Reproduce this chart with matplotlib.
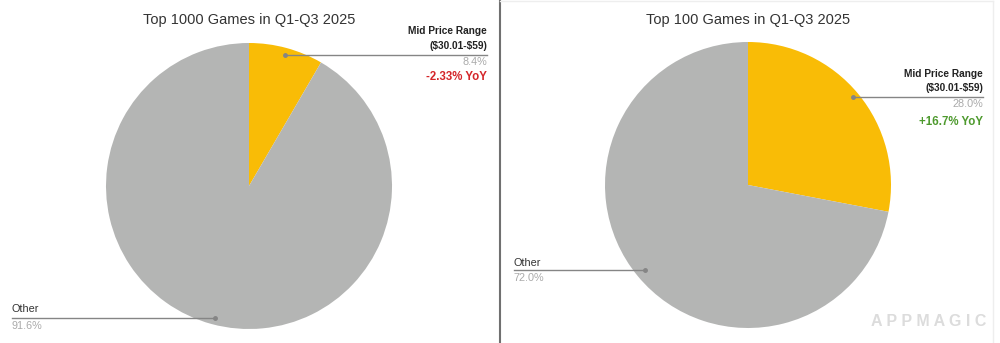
import matplotlib
matplotlib.use("Agg")
import matplotlib.pyplot as plt

plt.rcParams['font.family'] = ['Liberation Sans', 'DejaVu Sans']
plt.rcParams['text.parse_math'] = False

titles = ["Top 1000 Games in Q1-Q3 2025", "Top 100 Games in Q1-Q3 2025"]
categories = ["Mid Price Range", "($30.01-$59)", "Other"]
shares_top1000 = [8.4, 91.6]
shares_top100 = [28.0, 72.0]
yoy_labels = ["-2.33% YoY", "+16.7% YoY"]

colors = ["#F9BC06", "#B4B5B4"]
yoy_colors = ["#D4262A", "#4E9A2E"]

W, H = 1000, 343
fig = plt.figure(figsize=(W / 100, H / 100), dpi=100)
fig.patch.set_facecolor("white")

def fx(x):
    return x / W

def fy(y):
    return 1 - y / H

pies = [
    dict(cx=249, cy=186, r=143, data=shares_top1000,
         mid_anchor=(285, 55), mid_end=487, mid_y=[31, 46, 55, 62, 77],
         oth_anchor=(215, 318), oth_start=12, oth_y=[309, 318, 326]),
    dict(cx=748, cy=185, r=143, data=shares_top100,
         mid_anchor=(853, 97), mid_end=983, mid_y=[74, 88, 97, 104, 122],
         oth_anchor=(645, 270), oth_start=514, oth_y=[263, 270, 278]),
]

for i, p in enumerate(pies):
    ax = fig.add_axes([fx(p['cx'] - p['r']), fy(p['cy'] + p['r']),
                       2 * p['r'] / W, 2 * p['r'] / H])
    ax.pie(p['data'], colors=colors, startangle=90, counterclock=False,
           wedgeprops=dict(linewidth=0))
    ax.set_xlim(-1, 1)
    ax.set_ylim(-1, 1)
    ax.set_aspect('auto')
    ax.axis('off')

    fig.text(fx(p['cx']), fy(20), titles[i], ha='center', va='center',
             fontsize=10.5, color='#333333')

    y1, y2, yl, y3, y4 = p['mid_y']
    fig.text(fx(p['mid_end']), fy(y1), categories[0], ha='right', va='center',
             fontsize=7.3, fontweight='bold', color='#222222')
    fig.text(fx(p['mid_end']), fy(y2), categories[1], ha='right', va='center',
             fontsize=7.3, fontweight='bold', color='#222222')
    ax_pt = p['mid_anchor']
    fig.add_artist(plt.Line2D([fx(ax_pt[0]), fx(p['mid_end'])], [fy(yl), fy(yl)],
                              transform=fig.transFigure, color='#858585', lw=1.0))
    fig.add_artist(plt.Line2D([fx(ax_pt[0])], [fy(yl)], transform=fig.transFigure,
                              marker='o', ms=2.5, color='#858585', lw=0))
    fig.text(fx(p['mid_end']), fy(y3), f"{p['data'][0]:.1f}%", ha='right', va='center',
             fontsize=7.8, color='#aaaaaa')
    fig.text(fx(p['mid_end']), fy(y4), yoy_labels[i], ha='right', va='center',
             fontsize=8.3, fontweight='bold', color=yoy_colors[i])

    o1, ol, o2 = p['oth_y']
    fig.text(fx(p['oth_start']), fy(o1), categories[2], ha='left', va='center',
             fontsize=7.8, color='#333333')
    oa = p['oth_anchor']
    fig.add_artist(plt.Line2D([fx(p['oth_start']), fx(oa[0])], [fy(ol), fy(ol)],
                              transform=fig.transFigure, color='#858585', lw=1.0))
    fig.add_artist(plt.Line2D([fx(oa[0])], [fy(ol)], transform=fig.transFigure,
                              marker='o', ms=2.5, color='#858585', lw=0))
    fig.text(fx(p['oth_start']), fy(o2), f"{p['data'][1]:.1f}%", ha='left', va='center',
             fontsize=7.8, color='#aaaaaa')

fig.add_artist(plt.Line2D([fx(500), fx(500)], [0, 1], transform=fig.transFigure,
                          color='#707070', lw=1.5))
fig.add_artist(plt.Line2D([fx(993), fx(993)], [0, fy(1)], transform=fig.transFigure,
                          color='#eeeeee', lw=1.0))
fig.add_artist(plt.Line2D([fx(500), fx(993)], [fy(1), fy(1)], transform=fig.transFigure,
                          color='#eeeeee', lw=1.0))

fig.text(fx(929), fy(322), "A P P M A G I C", ha='center', va='center',
         fontsize=11.5, fontweight='bold', color='#dcdcdc')

fig.savefig("out.png", dpi=100, facecolor='white')
